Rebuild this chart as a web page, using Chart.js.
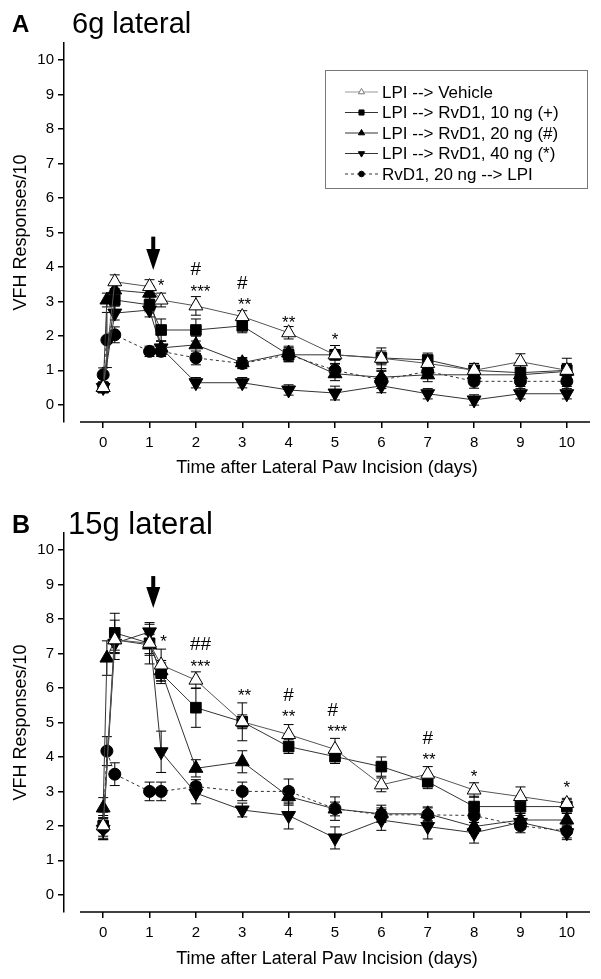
<!DOCTYPE html>
<html>
<head>
<meta charset="utf-8">
<script src="https://cdn.jsdelivr.net/npm/chart.js@4.4.0/dist/chart.umd.min.js"></script>
<style>
  html, body { margin: 0; padding: 0; background: #fff; }
  #wrap { position: relative; width: 601px; height: 979px; }
  .panel { position: absolute; left: 0; width: 601px; }
  #panelA { top: 0; height: 490px; }
  #panelB { top: 490px; height: 489px; }
</style>
</head>
<body>
<div id="wrap">
  <div class="panel" id="panelA"><canvas id="chartA"></canvas></div>
  <div class="panel" id="panelB"><canvas id="chartB"></canvas></div>
</div>
<script>
// time points (days after incision)
const days = [0, 0.08, 0.25, 1, 1.25, 2, 3, 4, 5, 6, 7, 8, 9, 10];
const xTicks = [0, 1, 2, 3, 4, 5, 6, 7, 8, 9, 10];
const yTicks = [0, 1, 2, 3, 4, 5, 6, 7, 8, 9, 10];
const seriesNames = [
    "LPI --> Vehicle",
    "LPI --> RvD1, 10 ng (+)",
    "LPI --> RvD1, 20 ng (#)",
    "LPI --> RvD1, 40 ng (*)",
    "RvD1, 20 ng --> LPI"
];

// panel A: 6g lateral
const vehA  = [0.5, null, 3.57, 3.43, 3.04, 2.87, 2.56, 2.09, 1.45, 1.35, 1.2, 1.0, 1.25, 1.0];
const rv10A = [0.5, null, 3.04, 2.9, 2.17, 2.17, 2.29, 1.45, 1.45, 1.36, 1.3, 1.0, 0.93, 1.0];
const rv20A = [0.5, 3.04, 3.33, 3.24, 1.65, 1.74, 1.22, 1.5, 0.9, 0.8, 0.87, 0.87, 0.87, 0.97];
const rv40A = [0.5, null, 2.66, 2.75, 1.65, 0.64, 0.64, 0.43, 0.34, 0.55, 0.32, 0.14, 0.32, 0.32];
const preA  = [0.87, 1.88, 2.03, 1.55, 1.55, 1.36, 1.2, 1.45, 1.0, 0.72, 0.97, 0.68, 0.68, 0.68];

const errVehA  = [0.1, null, 0.2, 0.2, 0.2, 0.27, 0.17, 0.18, 0.27, 0.3, 0.15, 0.2, 0.23, 0.2];
const errRv10A = [0.1, null, 0.3, 0.2, 0.32, 0.32, 0.2, 0.2, 0.15, 0.2, 0.2, 0.2, 0.2, 0.35];
const errRv20A = [0.1, 0.2, 0.2, 0.2, 0.2, 0.25, 0.15, 0.2, 0.2, 0.2, 0.2, 0.2, 0.2, 0.2];
const errRv40A = [0.15, null, 0.2, 0.2, 0.2, 0.15, 0.15, 0.15, 0.2, 0.2, 0.15, 0.15, 0.15, 0.15];
const errPreA  = [0.2, 0.8, 0.23, 0.15, 0.15, 0.2, 0.15, 0.2, 0.2, 0.25, 0.2, 0.2, 0.15, 0.15];

// panel B: 15g lateral
const vehB  = [2.0, null, 7.4, 7.3, 6.67, 6.23, 5.02, 4.65, 4.22, 3.19, 3.5, 3.04, 2.85, 2.65];
const rv10B = [2.0, null, 7.6, 7.3, 6.43, 5.43, 5.02, 4.3, 4.01, 3.72, 3.28, 2.56, 2.56, 2.56];
const rv20B = [2.52, 6.87, 7.4, 7.25, 6.5, 3.67, 3.86, 2.85, 2.49, 2.35, 2.35, 1.98, 2.17, 2.17];
const rv40B = [1.9, null, 7.3, 7.63, 4.15, 2.95, 2.46, 2.3, 1.65, 2.17, 1.98, 1.8, 2.1, 1.8];
const preB  = [1.94, 4.17, 3.5, 3.0, 3.0, 3.14, 3.0, 3.0, 2.5, 2.32, 2.32, 2.3, 2.0, 1.85];

const errVehB  = [0.3, null, 0.57, 0.3, 0.46, 0.24, 0.55, 0.29, 0.32, 0.2, 0.22, 0.21, 0.28, 0.15];
const errRv10B = [0.4, null, 0.57, 0.6, 0.3, 0.57, 0.2, 0.2, 0.2, 0.28, 0.2, 0.3, 0.2, 0.2];
const errRv20B = [0.3, 0.5, 0.3, 0.3, 0.3, 0.25, 0.32, 0.25, 0.2, 0.25, 0.2, 0.2, 0.2, 0.2];
const errRv40B = [0.3, null, 0.3, 0.22, 0.6, 0.31, 0.2, 0.39, 0.32, 0.3, 0.36, 0.3, 0.2, 0.2];
const errPreB  = [0.3, 0.42, 0.33, 0.27, 0.27, 0.2, 0.27, 0.36, 0.34, 0.2, 0.2, 0.2, 0.2, 0.2];

// significance marks
const annDaysA = [1.25, 2, 2.1, 3, 3.05, 4, 5];
const annValsA = [3.6, 3.97, 3.43, 3.57, 3.04, 2.53, 2.03];
const annTextA = ["*", "#", "***", "#", "**", "**", "*"];

const annDaysB = [1.3, 2.1, 2.1, 3.05, 4, 4, 4.95, 5.05, 7, 7.03, 8, 10];
const annValsB = [7.49, 7.3, 6.77, 5.91, 5.82, 5.31, 5.39, 4.88, 4.59, 4.06, 3.57, 3.24];
const annTextB = ["*", "##", "***", "**", "#", "**", "#", "***", "#", "**", "*", "*"];

// RvD1 injection arrow (day, top value, tip value)
const arrowA = [1.08, 4.88, 3.91];
const arrowB = [1.08, 9.25, 8.32];

const FONT = "'Liberation Sans', Arial, sans-serif";

const styles = [
    { pointStyle: "triangle", pointRadius: 8, fill: "#fff", line: "#555", dash: [] },
    { pointStyle: "rect", pointRadius: 7.5, fill: "#000", line: "#333", dash: [] },
    { pointStyle: "triangle", pointRadius: 8, fill: "#000", line: "#333", dash: [] },
    { pointStyle: "triangle", pointRadius: 8, fill: "#000", line: "#333", dash: [], rot: 180 },
    { pointStyle: "circle", pointRadius: 6, fill: "#000", line: "#333", dash: [3, 3] }
];

function makeSets(vals, errs) {
    return seriesNames.map((name, i) => ({
        label: name,
        data: days.map((d, j) => ({ x: d, y: vals[i][j] })),
        err: errs[i],
        borderColor: styles[i].line,
        borderWidth: 1,
        borderDash: styles[i].dash,
        pointStyle: styles[i].pointStyle,
        pointRadius: styles[i].pointRadius,
        pointRotation: styles[i].rot || 0,
        pointBackgroundColor: styles[i].fill,
        pointBorderColor: "#000",
        pointBorderWidth: 1,
        spanGaps: true,
        tension: 0
    }));
}

const extras = {
    id: "extras",
    beforeDatasetsDraw(chart, args, opts) {
        const { ctx, chartArea } = chart;
        const x = chart.scales.x, y = chart.scales.y;
        ctx.save();
        // x axis line, offset from the y axis
        ctx.strokeStyle = "#000";
        ctx.lineWidth = 1.5;
        ctx.beginPath();
        ctx.moveTo(x.getPixelForValue(-0.5), chartArea.bottom);
        ctx.lineTo(x.getPixelForValue(10.5), chartArea.bottom);
        ctx.stroke();

        // error bars
        ctx.lineWidth = 1;
        chart.data.datasets.forEach((ds) => {
            ds.data.forEach((p, j) => {
                const e = ds.err[j];
                if (e == null || p.y == null) return;
                const px = x.getPixelForValue(p.x);
                const t = y.getPixelForValue(p.y + e);
                const b = y.getPixelForValue(p.y - e);
                ctx.beginPath();
                ctx.moveTo(px, t); ctx.lineTo(px, b);
                ctx.moveTo(px - 5, t); ctx.lineTo(px + 5, t);
                ctx.moveTo(px - 5, b); ctx.lineTo(px + 5, b);
                ctx.stroke();
            });
        });
        ctx.restore();
    },
    afterDatasetsDraw(chart, args, opts) {
        const { ctx } = chart;
        const x = chart.scales.x, y = chart.scales.y;
        ctx.save();
        ctx.fillStyle = "#000";

        // panel titles
        ctx.textBaseline = "alphabetic";
        ctx.textAlign = "left";
        ctx.font = "bold " + opts.letterSize + "px " + FONT;
        ctx.fillText(opts.letter, 12, opts.titleY);
        ctx.font = opts.titleSize + "px " + FONT;
        ctx.fillText(opts.title, opts.titleX, opts.titleY + 1);

        // significance marks
        ctx.textAlign = "center";
        opts.annText.forEach((t, i) => {
            const px = x.getPixelForValue(opts.annDays[i]);
            const py = y.getPixelForValue(opts.annVals[i]);
            const star = t[0] === "*";
            ctx.font = (star ? "17px " : "19px ") + FONT;
            ctx.fillText(t, px, py + (star ? 10 : 7));
        });

        // injection arrow
        const [ad, top, tip] = opts.arrow;
        const ax = x.getPixelForValue(ad);
        const ty = y.getPixelForValue(top);
        const py = y.getPixelForValue(tip);
        const headTop = py - 21;
        ctx.fillRect(ax - 2, ty, 4, headTop - ty + 1);
        ctx.beginPath();
        ctx.moveTo(ax - 7, headTop);
        ctx.lineTo(ax + 7, headTop);
        ctx.lineTo(ax, py);
        ctx.closePath();
        ctx.fill();

        // legend box
        if (opts.legend) {
            ctx.strokeStyle = "#777";
            ctx.lineWidth = 1;
            ctx.strokeRect(325.5, 70.5, 262, 118);
            ctx.font = "17px " + FONT;
            ctx.textAlign = "left";
            ctx.textBaseline = "middle";
            chart.data.datasets.forEach((ds, i) => {
                const ry = 92 + i * 20.5;
                ctx.strokeStyle = i === 0 ? "#999" : "#333";
                ctx.setLineDash(ds.borderDash);
                ctx.beginPath();
                ctx.moveTo(345, ry); ctx.lineTo(378, ry);
                ctx.stroke();
                ctx.setLineDash([]);
                ctx.fillStyle = ds.pointBackgroundColor;
                ctx.strokeStyle = i === 0 ? "#777" : "#000";
                Chart.helpers.drawPoint(ctx, {
                    pointStyle: ds.pointStyle,
                    rotation: ds.pointRotation,
                    radius: ds.pointStyle === "circle" ? 2.8 : 3.6,
                    borderWidth: 1
                }, 361.5, ry);
                ctx.fillStyle = "#000";
                ctx.fillText(ds.label, 382, ry + 1);
            });
        }
        ctx.restore();
    }
};

function initChart(id, vals, errs, panel) {
    const ctx = document.getElementById(id).getContext("2d");
    new Chart(ctx, {
        type: "line",
        data: { datasets: makeSets(vals, errs) },
        plugins: [extras],
        options: {
            responsive: true,
            maintainAspectRatio: false,
            animation: false,
            layout: { padding: { top: 43, right: 11, left: 0, bottom: 0 } },
            plugins: {
                legend: { display: false },
                tooltip: { enabled: false },
                extras: panel
            },
            scales: {
                x: {
                    type: "linear",
                    min: -0.845,
                    max: 10.5,
                    afterBuildTicks: (s) => { s.ticks = xTicks.map((v) => ({ value: v })); },
                    afterFit: (s) => { s.height = panel.xHeight; },
                    border: { display: false },
                    grid: { drawOnChartArea: false, drawTicks: true, tickLength: 6, color: "#000", lineWidth: 1.5 },
                    ticks: { color: "#000", font: { family: FONT, size: 15 }, padding: 6, maxRotation: 0, autoSkip: false },
                    title: {
                        display: true,
                        text: "Time after Lateral Paw Incision (days)",
                        color: "#000",
                        font: { family: FONT, size: 18 },
                        padding: { top: 0, bottom: panel.xTitlePad }
                    }
                },
                y: {
                    type: "linear",
                    min: -0.5,
                    max: 10.5,
                    afterBuildTicks: (s) => { s.ticks = yTicks.map((v) => ({ value: v })); },
                    afterFit: (s) => { s.width = 64; },
                    border: { color: "#000", width: 1.5 },
                    grid: { drawOnChartArea: false, drawTicks: true, tickLength: 6, color: "#000", lineWidth: 1.5 },
                    ticks: { color: "#000", font: { family: FONT, size: 15 }, padding: 4 },
                    title: {
                        display: true,
                        text: "VFH Responses/10",
                        color: "#000",
                        font: { family: FONT, size: 18 },
                        padding: { top: 10, bottom: 0 }
                    }
                }
            }
        }
    });
}

initChart("chartA", [vehA, rv10A, rv20A, rv40A, preA], [errVehA, errRv10A, errRv20A, errRv40A, errPreA], {
    letter: "A", letterSize: 24, title: "6g lateral", titleSize: 29, titleX: 72, titleY: 32,
    annDays: annDaysA, annVals: annValsA, annText: annTextA, arrow: arrowA,
    legend: true, xHeight: 68, xTitlePad: 11
});

initChart("chartB", [vehB, rv10B, rv20B, rv40B, preB], [errVehB, errRv10B, errRv20B, errRv40B, errPreB], {
    letter: "B", letterSize: 25, title: "15g lateral", titleSize: 31, titleX: 68, titleY: 43,
    annDays: annDaysB, annVals: annValsB, annText: annTextB, arrow: arrowB,
    legend: false, xHeight: 67, xTitlePad: 9
});
</script>
</body>
</html>
